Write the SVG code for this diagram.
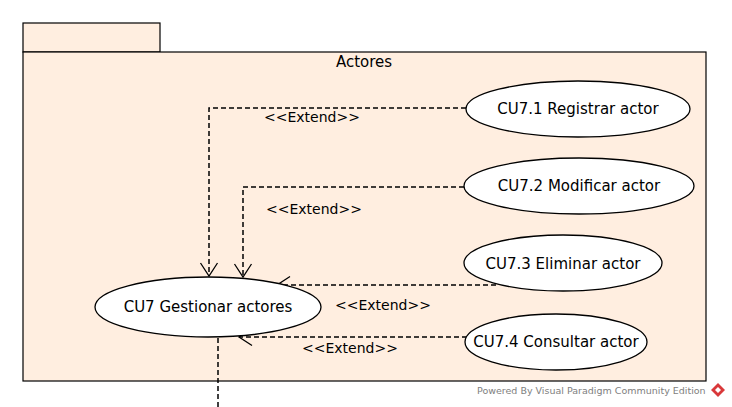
<svg xmlns="http://www.w3.org/2000/svg" width="732" height="407" viewBox="0 0 732 407">
<style>
.pkg{fill:#FFEEE0;stroke:#000;stroke-width:1.2}
.uc ellipse{fill:#fff;stroke:#000;stroke-width:1.3}
.t{font-family:"DejaVu Sans","Liberation Sans",sans-serif;font-size:15px;fill:#000;text-anchor:middle}
.e{font-size:14px}
.c{fill:none;stroke:#000;stroke-width:1.5;stroke-dasharray:5,3}
.wm{font-family:"DejaVu Sans","Liberation Sans",sans-serif;font-size:9.5px;fill:#808080}
</style>
<defs>
<marker id="open" markerWidth="18" markerHeight="20" refX="14" refY="10" orient="auto" markerUnits="userSpaceOnUse">
<path d="M1,1.5 L14,10 L1,18.5" fill="none" stroke="#000" stroke-width="1.3"/>
</marker>
</defs>
<g id="package-actores">
<rect class="pkg" x="23" y="23" width="137" height="29"/>
<rect class="pkg" x="23" y="52" width="683" height="329"/>
<text class="t" x="364" y="67">Actores</text>
</g>
<g id="connectors">
<path class="c" d="M466,108 H209 V276" marker-end="url(#open)"/>
<path class="c" d="M464,187 H243 V277" marker-end="url(#open)"/>
<path class="c" d="M496,285 H277" marker-end="url(#open)"/>
<path class="c" d="M467,337 H239" marker-end="url(#open)"/>
<path class="c" d="M218,338 V407"/>
<text class="t e" x="312" y="122">&lt;&lt;Extend&gt;&gt;</text>
<text class="t e" x="314" y="214">&lt;&lt;Extend&gt;&gt;</text>
<text class="t e" x="383" y="310">&lt;&lt;Extend&gt;&gt;</text>
<text class="t e" x="350" y="353">&lt;&lt;Extend&gt;&gt;</text>
</g>
<g id="cu7-1" class="uc">
<ellipse cx="578" cy="109" rx="112" ry="28"/>
<text class="t" x="578" y="114">CU7.1 Registrar actor</text>
</g>
<g id="cu7-2" class="uc">
<ellipse cx="579" cy="186" rx="115" ry="28"/>
<text class="t" x="579" y="191">CU7.2 Modificar actor</text>
</g>
<g id="cu7-3" class="uc">
<ellipse cx="563" cy="263" rx="99" ry="28"/>
<text class="t" x="563" y="269">CU7.3 Eliminar actor</text>
</g>
<g id="cu7-4" class="uc">
<ellipse cx="556" cy="342" rx="91" ry="28"/>
<text class="t" x="556" y="347">CU7.4 Consultar actor</text>
</g>
<g id="cu7" class="uc">
<ellipse cx="208" cy="307" rx="113" ry="30"/>
<text class="t" x="208" y="312">CU7 Gestionar actores</text>
</g>
<g id="watermark">
<text class="wm" x="477" y="394">Powered By Visual Paradigm Community Edition</text>
<path d="M718,383 L725,390 L718,397 L711,390 Z" fill="#D9383A"/>
<path d="M718,387 L721,390 L718,393 L715,390 Z" fill="#fff"/>
</g>
</svg>
